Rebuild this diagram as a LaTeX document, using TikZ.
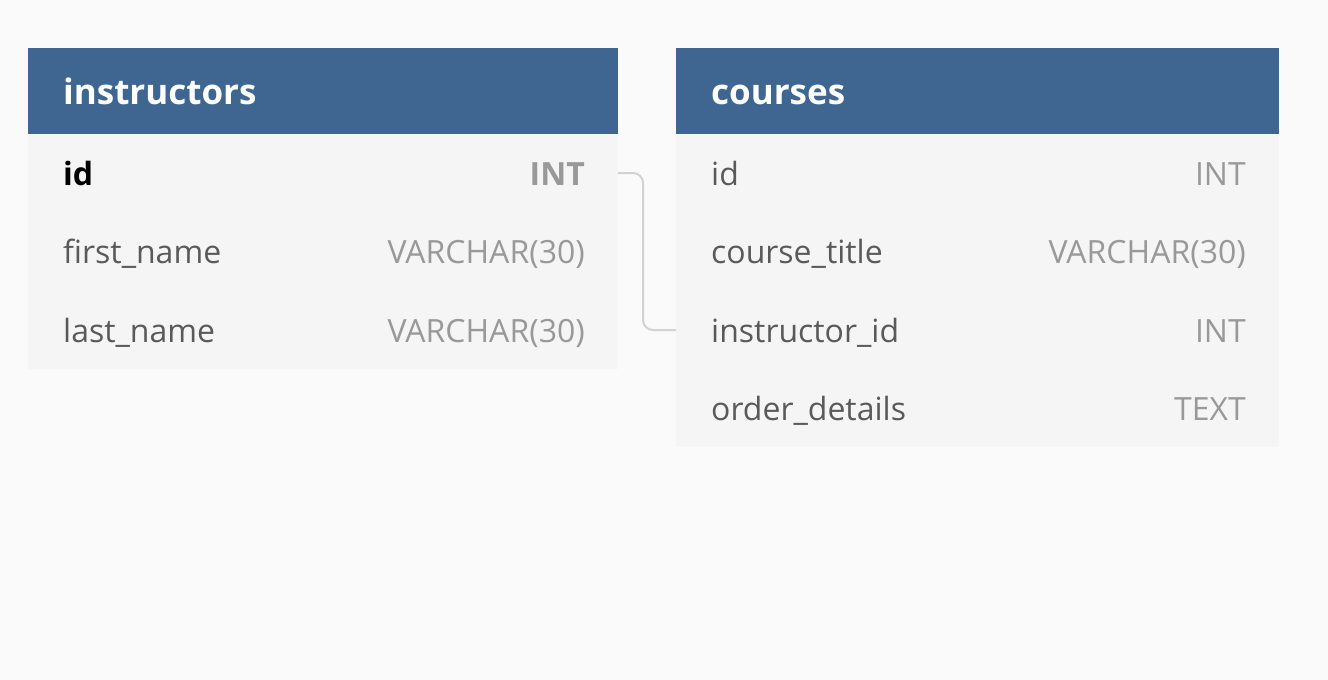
\documentclass[tikz,border=0pt]{standalone}
\usepackage{fontspec}
\setmainfont{Open Sans}
\definecolor{bg}{HTML}{FAFAFA}
\definecolor{hdr}{HTML}{3E6690}
\definecolor{body}{HTML}{F5F5F5}
\definecolor{nametxt}{HTML}{5A5A5A}
\definecolor{typetxt}{HTML}{999999}
\definecolor{link}{HTML}{D2D2D2}
\begin{document}
\begin{tikzpicture}[x=1pt,y=-1pt,
  hdrbox/.style={fill=hdr,draw=none,inner sep=0,outer sep=0},
  bodybox/.style={fill=body,draw=none,inner sep=0,outer sep=0},
  title/.style={anchor=base west,text=white,font=\fontsize{35}{40}\selectfont\bfseries,inner sep=0},
  fname/.style={anchor=base west,text=nametxt,font=\fontsize{32}{38}\selectfont,inner sep=0},
  ftype/.style={anchor=base east,text=typetxt,font=\fontsize{32}{38}\selectfont,inner sep=0},
  pkname/.style={anchor=base west,text=black,font=\fontsize{32}{38}\selectfont\bfseries,inner sep=0},
  pktype/.style={anchor=base east,text=typetxt,font=\fontsize{32}{38}\selectfont\bfseries,inner sep=0},
  rel/.style={draw=link,line width=2pt,rounded corners=10pt}]
\fill[bg] (0,0) rectangle (1328,680);
\useasboundingbox (0,0) rectangle (1328,680);
% instructors
\path[bodybox] (28,134) rectangle (618,369);
\path[hdrbox] (28,48) rectangle (618,134);
\node[title] (ti) at (63,104) {instructors};
\node[pkname] (i1n) at (63,185) {id};
\node[pktype] (i1t) at (585,185) {INT};
\node[fname] (i2n) at (63,263) {first\_name};
\node[ftype] (i2t) at (585,263) {VARCHAR(30)};
\node[fname] (i3n) at (63,342) {last\_name};
\node[ftype] (i3t) at (585,342) {VARCHAR(30)};
% courses
\path[bodybox] (676,134) rectangle (1279,447);
\path[hdrbox] (676,48) rectangle (1279,134);
\node[title] (tc) at (711,104) {courses};
\node[fname] (c1n) at (711,185) {id};
\node[ftype] (c1t) at (1246,185) {INT};
\node[fname] (c2n) at (711,263) {course\_title};
\node[ftype] (c2t) at (1246,263) {VARCHAR(30)};
\node[fname] (c3n) at (711,342) {instructor\_id};
\node[ftype] (c3t) at (1246,342) {INT};
\node[fname] (c4n) at (711,420) {order\_details};
\node[ftype] (c4t) at (1246,420) {TEXT};
\coordinate (from) at (618,173);
\coordinate (to) at (676,330);
\draw[rel] (from) -- (643,173) -- (643,330) -- (to);
\end{tikzpicture}
\end{document}
